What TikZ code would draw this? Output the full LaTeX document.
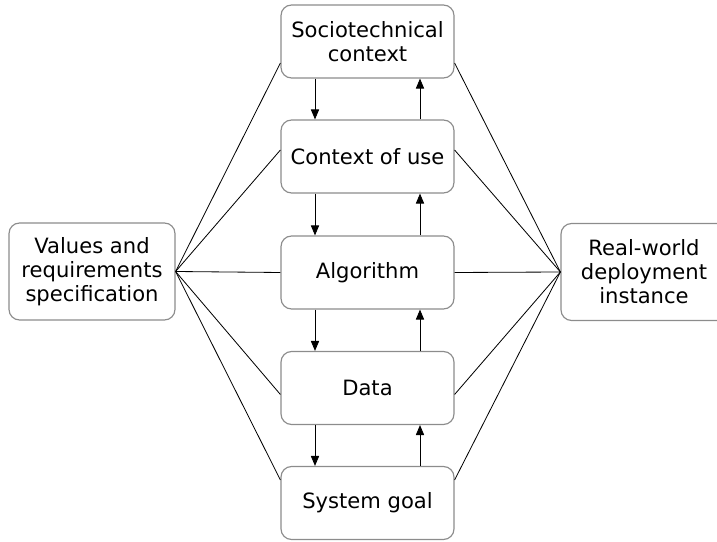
\documentclass[tikz,border=0pt]{standalone}
\usepackage{fontspec}
\setmainfont{DejaVu Sans}
\usetikzlibrary{arrows.meta,calc}
\tikzset{font=\fontsize{18}{20.5}\selectfont}
\tikzset{box/.style={draw=black!45, line width=1pt, rounded corners=9pt, align=center, inner sep=0pt}}
\tikzset{layer/.style={box, minimum width=5.19cm, minimum height=2.19cm}}
\tikzset{side/.style={box, minimum width=4.98cm, minimum height=2.91cm}}
\tikzset{link/.style={black, line width=0.7pt}}

\begin{document}
\begin{tikzpicture}[x=0.03cm,y=-0.03cm]
  \useasboundingbox (0,0) rectangle (717,542);

  \node[side] (vals) at (92,271.5) {Values and\\requirements\\specification};
  \node[side] (real) at (644,272) {Real-world\\deployment\\instance};

  \node[layer] (soc) at (367.5,41.5) {Sociotechnical\\context};
  \node[layer] (ctx) at (367.5,156.5) {Context of use};
  \node[layer] (alg) at (367.5,272.5) {Algorithm};
  \node[layer] (data) at (367.5,388) {Data};
  \node[layer] (goal) at (367.5,503) {System goal};

  \foreach \n/\d in {soc/21.5, ctx/-6.5, alg/0, data/6.5, goal/-23}{
    \draw[link] (vals.east) -- ($(\n.west)+(0,\d)$);
    \draw[link] (real.west) -- ($(\n.east)+(0,\d)$);
  };

  % down on the left, up on the right
  \foreach \a/\b in {soc/ctx, ctx/alg, alg/data, data/goal}{
    \draw[link,-{Triangle[length=8.5pt,width=7pt]}] ($(\a.south)+(-52.5,0)$) -- ($(\b.north)+(-52.5,0)$);
    \draw[link,-{Triangle[length=8.5pt,width=7pt]}] ($(\b.north)+(52.5,0)$) -- ($(\a.south)+(52.5,0)$);
  };
\end{tikzpicture}
\end{document}
